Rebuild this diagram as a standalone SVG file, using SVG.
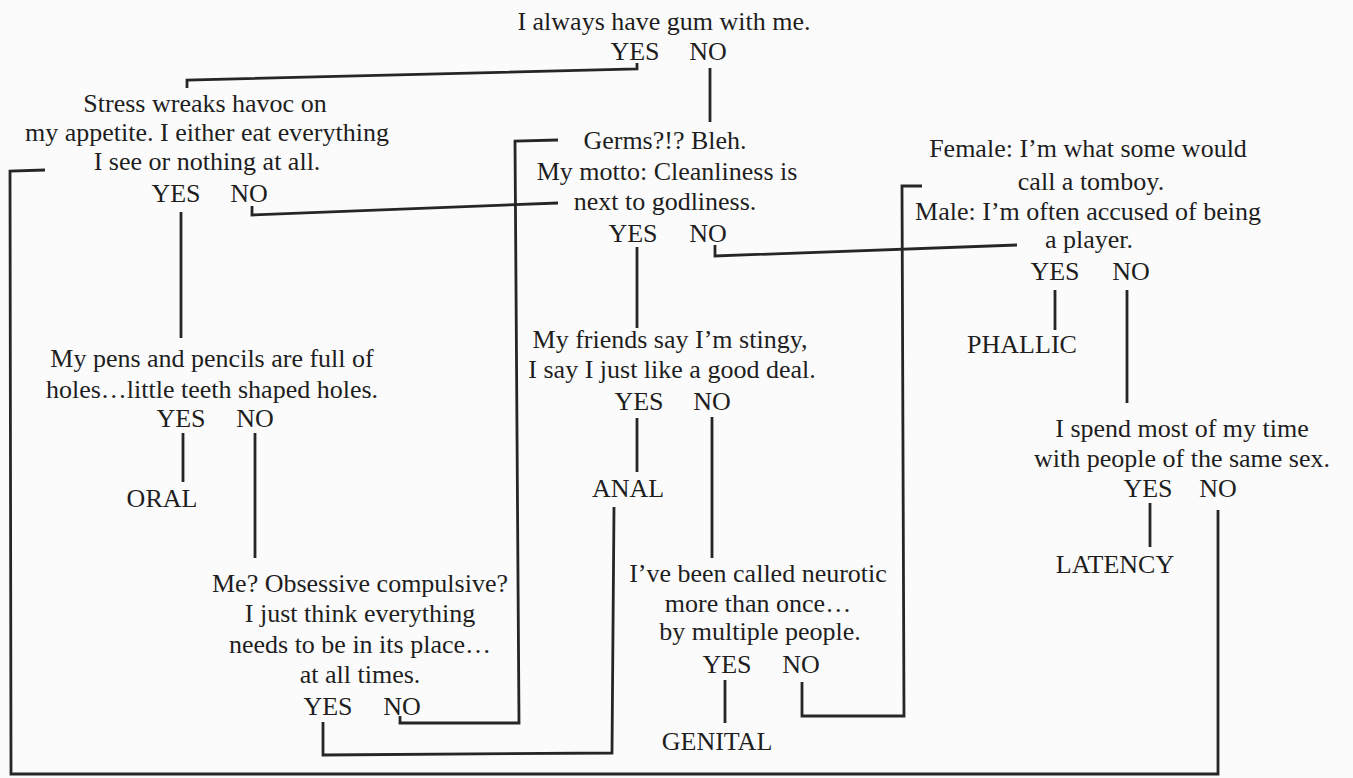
<svg xmlns="http://www.w3.org/2000/svg" width="1353" height="778" viewBox="0 0 1353 778">
<style>
text{font-family:"Liberation Serif","Times New Roman",serif;font-size:26px;fill:#1e1e1e;text-anchor:middle}
.c{fill:none;stroke:#262626;stroke-width:2.8;stroke-linejoin:miter;stroke-linecap:butt}
</style>
<rect width="1353" height="778" fill="#fbfbfb"/>
<g id="connectors">
<path class="c" d="M637,63 L637,69 L187,80 L187,88"/>
<path class="c" d="M710,68 L710,122"/>
<path class="c" d="M181,212 L181,338"/>
<path class="c" d="M252,206 L252,215 L558,203"/>
<path class="c" d="M45,170 L10,171 L11,774 L1218,774 L1218,510"/>
<path class="c" d="M558,140 L515,141 L519,723 L400,723 L400,716"/>
<path class="c" d="M637,247 L637,328"/>
<path class="c" d="M715,245 L715,256 L1017,245"/>
<path class="c" d="M183,433 L183,482"/>
<path class="c" d="M255,433 L255,558"/>
<path class="c" d="M637,418 L637,472"/>
<path class="c" d="M712,417 L712,558"/>
<path class="c" d="M614,507 L612,753 L323,755 L323,722"/>
<path class="c" d="M725,680 L725,723"/>
<path class="c" d="M802,682 L802,716 L904,716 L902,186 L922,186"/>
<path class="c" d="M1055,290 L1055,330"/>
<path class="c" d="M1127,290 L1127,403"/>
<path class="c" d="M1150,503 L1150,547"/>
</g>
<g id="q-gum">
<text x="664" y="30">I always have gum with me.</text>
<text x="635" y="60">YES</text><text x="708" y="60">NO</text>
</g>
<g id="q-stress">
<text x="205" y="112">Stress wreaks havoc on</text>
<text x="207" y="141">my appetite. I either eat everything</text>
<text x="207" y="170">I see or nothing at all.</text>
<text x="176" y="202">YES</text><text x="249" y="202">NO</text>
</g>
<g id="q-germs">
<text x="665" y="149">Germs?!? Bleh.</text>
<text x="667" y="180">My motto: Cleanliness is</text>
<text x="665" y="210">next to godliness.</text>
<text x="633" y="242">YES</text><text x="708" y="242">NO</text>
</g>
<g id="q-gender">
<text x="1088" y="157">Female: I’m what some would</text>
<text x="1091" y="190">call a tomboy.</text>
<text x="1088" y="220">Male: I’m often accused of being</text>
<text x="1089" y="248">a player.</text>
<text x="1055" y="280">YES</text><text x="1131" y="280">NO</text>
</g>
<g id="r-phallic"><text x="1022" y="353">PHALLIC</text></g>
<g id="q-pens">
<text x="212" y="367">My pens and pencils are full of</text>
<text x="212" y="398">holes…little teeth shaped holes.</text>
<text x="181" y="427">YES</text><text x="255" y="427">NO</text>
</g>
<g id="r-oral"><text x="162" y="507">ORAL</text></g>
<g id="q-stingy">
<text x="670" y="348">My friends say I’m stingy,</text>
<text x="672" y="378">I say I just like a good deal.</text>
<text x="639" y="410">YES</text><text x="712" y="410">NO</text>
</g>
<g id="r-anal"><text x="628" y="497">ANAL</text></g>
<g id="q-samesex">
<text x="1182" y="437">I spend most of my time</text>
<text x="1182" y="467">with people of the same sex.</text>
<text x="1148" y="497">YES</text><text x="1218" y="497">NO</text>
</g>
<g id="r-latency"><text x="1115" y="573">LATENCY</text></g>
<g id="q-ocd">
<text x="360" y="592">Me? Obsessive compulsive?</text>
<text x="360" y="622">I just think everything</text>
<text x="360" y="653">needs to be in its place…</text>
<text x="360" y="683">at all times.</text>
<text x="328" y="715">YES</text><text x="402" y="715">NO</text>
</g>
<g id="q-neurotic">
<text x="758" y="582">I’ve been called neurotic</text>
<text x="758" y="612">more than once…</text>
<text x="760" y="640">by multiple people.</text>
<text x="727" y="673">YES</text><text x="801" y="673">NO</text>
</g>
<g id="r-genital"><text x="717" y="750">GENITAL</text></g>
</svg>
